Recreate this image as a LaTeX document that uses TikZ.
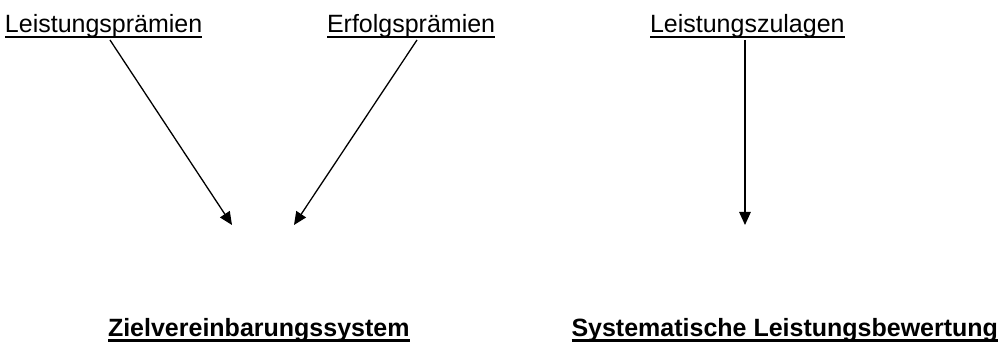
\documentclass[tikz,border=0pt]{standalone}
\usepackage{fontspec}
\setmainfont{Liberation Sans}
\usetikzlibrary{arrows.meta}
\tikzset{
  lbl/.style={inner sep=0pt, outer sep=0pt, font=\fontsize{25}{30}\selectfont},
  head/.style={lbl, font=\fontsize{25}{30}\selectfont\bfseries},
  uline/.style={line width=2pt},
  uline bold/.style={line width=2.5pt},
  link/.style={line width=1.3pt, -{Triangle[length=13pt,width=11.5pt]}}
}
\begin{document}
\begin{tikzpicture}[x=1pt,y=-1pt]
\useasboundingbox (0,0) rectangle (1002,342);
% upper labels
\node[lbl, anchor=base west] (lp) at (5,32.5) {Leistungsprämien};
\node[lbl, anchor=base west] (ep) at (327,32.5) {Erfolgsprämien};
\node[lbl, anchor=base west] (lz) at (650,32.5) {Leistungszulagen};
\foreach \n in {lp,ep,lz}
  \draw[uline] ([yshift=-5pt]\n.base west) -- ([yshift=-5pt]\n.base east);
% lower headings
\node[head, anchor=base west] (zv) at (108,336) {Zielvereinbarungssystem};
\node[head, anchor=base east] (sl) at (998,336) {Systematische Leistungsbewertung};
\foreach \n in {zv,sl}
  \draw[uline bold] ([yshift=-4.5pt]\n.base west) -- ([yshift=-4.5pt]\n.base east);
% arrow ends
\coordinate (s1) at (110,40);
\coordinate (t1) at (232,225);
\coordinate (s2) at (417,40);
\coordinate (t2) at (294,225);
\coordinate (s3) at (745,40);
\coordinate (t3) at (745,225);
\draw[link] (s1) -- (t1);
\draw[link] (s2) -- (t2);
\draw[link] (s3) -- (t3);
\end{tikzpicture}
\end{document}
